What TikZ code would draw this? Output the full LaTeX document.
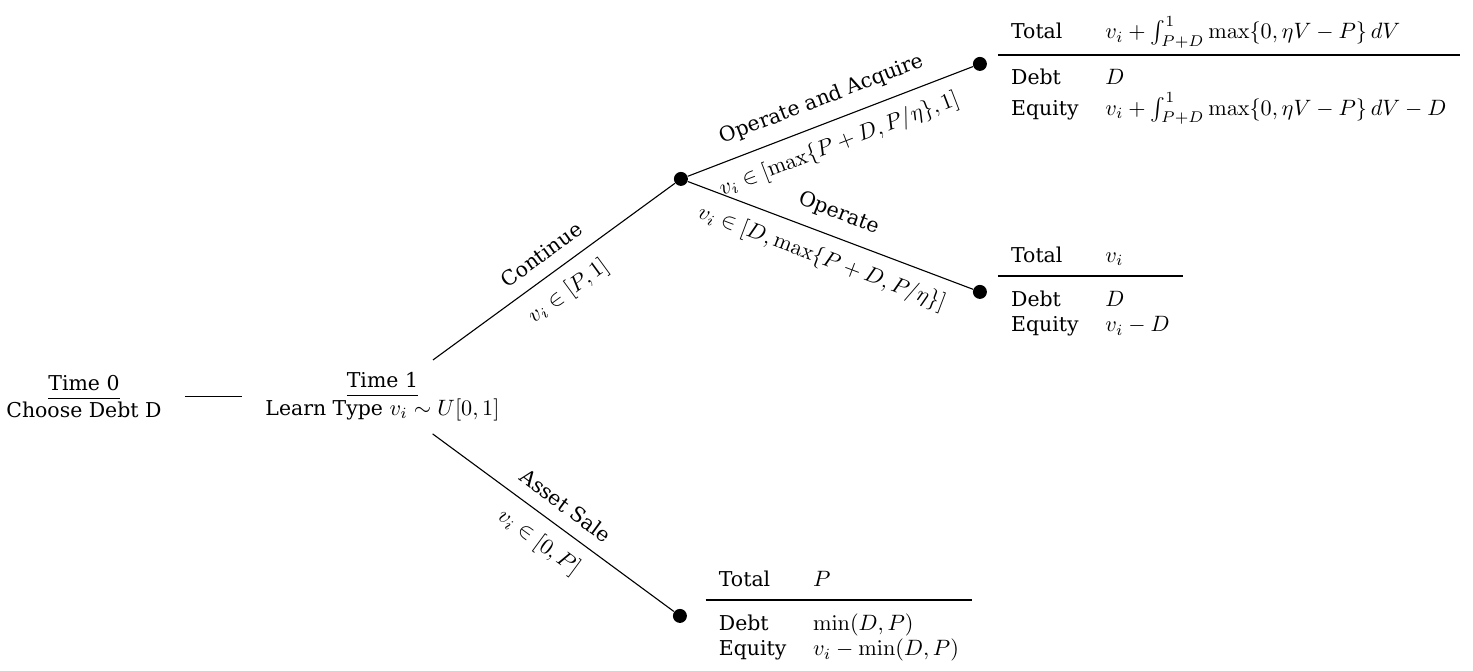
\documentclass[tikz,border=0pt]{standalone}
\usepackage[no-math]{fontspec}
\setmainfont{DejaVu Serif}
\usepackage{amsmath}
\usepackage{booktabs}
\usepackage{tikz}
\usetikzlibrary{positioning}
\DeclareMathSizes{9.2}{10.2}{7.2}{5.6}
\setlength{\lightrulewidth}{0.8pt}
\setlength{\aboverulesep}{2.5pt}
\setlength{\belowrulesep}{5pt}
\renewcommand{\arraystretch}{1.1}
\newcommand{\payoff}[3]{\begin{tabular}{ll}Total & #1\\\midrule Debt & #2\\ Equity & #3\end{tabular}}

\begin{document}
\begin{tikzpicture}[
  font=\fontsize{9.2}{10.5}\selectfont,
  period/.style={align=center, inner ysep=5.5pt},
  knot/.style={circle, fill=black, inner sep=0pt, minimum size=6.3pt},
  branch/.style={line width=0.5pt},
  pay/.style={inner sep=0pt},
  act/.style={midway, sloped, above=2.5pt},
  cond/.style={midway, sloped, below=2.5pt}
]
\useasboundingbox (-1.328,-4.333) rectangle (21.97,6.278);

% time line
\node[period] (t0) at (0,0) {\underline{Time 0\vphantom{y}}\\Choose Debt D};
\node[period] (t1) at (4.721,0) {\underline{Time 1\vphantom{y}}\\Learn Type $v_i \sim U[0,1]$};

% decision points
\node[knot] (c1) at (9.442,3.448) {};
\node[knot] (a1) at (14.171,5.267) {};
\node[knot] (a2) at (14.171,1.661) {};
\node[knot] (a3) at (9.426,-3.464) {};

% payoffs
\node[pay, right=4.5pt of a1, yshift=-3pt] (p1)
  {\payoff{$v_i+\int_{P+D}^{1}\max\{0,\eta V-P\}\,dV$}{$D$}{$v_i+\int_{P+D}^{1}\max\{0,\eta V-P\}\,dV-D$}};
\node[pay, right=4.5pt of a2] (p2) {\payoff{$v_i$}{$D$}{$v_i-D$}};
\node[pay, right=8pt of a3] (p3) {\payoff{$P$}{$\min(D,P)$}{$v_i-\min(D,P)$}};

\draw[branch, shorten <=7pt, shorten >=7pt] (t0.east) -- (t1.west);
\draw[branch] (t1) -- node[act] {Continue} node[cond] {$v_i \in [P,1]$} (c1);
\draw[branch] (t1) -- node[act] {Asset Sale} node[cond] {$v_i \in [0,P]$} (a3);
\draw[branch] (c1) -- node[act] {Operate and Acquire} node[cond] {$v_i \in [\max\{P+D,P/\eta\},1]$} (a1);
\draw[branch] (c1) -- node[act] {Operate} node[cond] {$v_i \in [D,\max\{P+D,P/\eta\}]$} (a2);
\end{tikzpicture}
\end{document}
